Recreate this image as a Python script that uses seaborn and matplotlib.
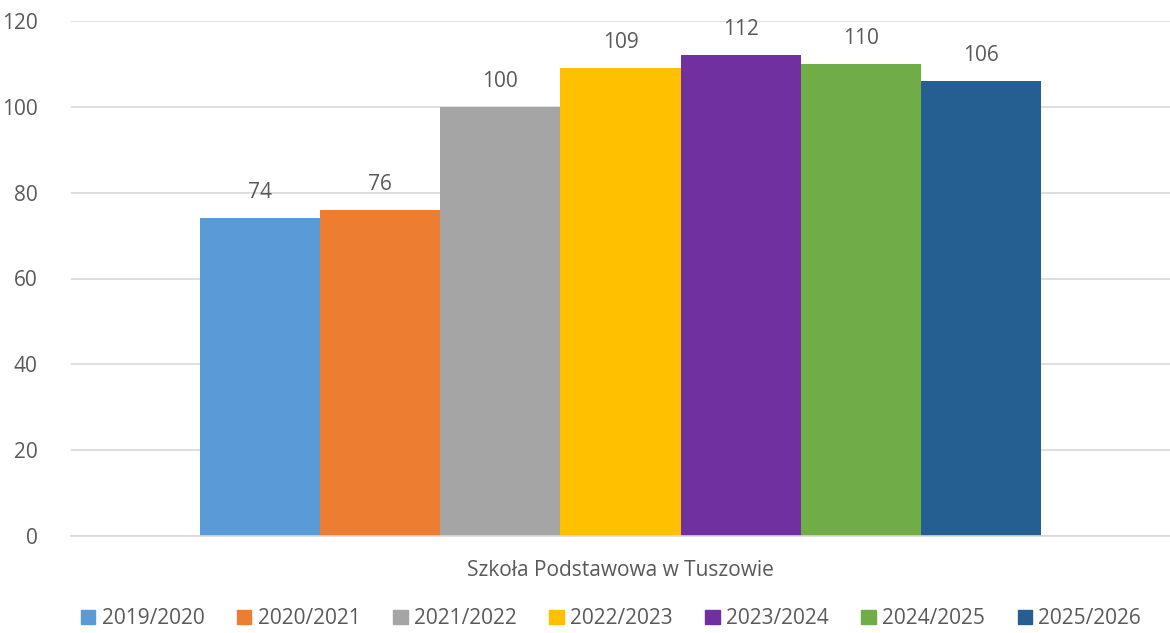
import matplotlib
matplotlib.use("Agg")
import matplotlib.pyplot as plt
import seaborn as sns
import pandas as pd

category = ["Szkoła Podstawowa w Tuszowie"]
years = ["2019/2020", "2020/2021", "2021/2022", "2022/2023", "2023/2024", "2024/2025", "2025/2026"]
values = [74, 76, 100, 109, 112, 110, 106]
colors = ["#5B9BD5", "#ED7D31", "#A5A5A5", "#FFC000", "#7030A0", "#70AD47", "#255E91"]
yticks = [0, 20, 40, 60, 80, 100, 120]

df = pd.DataFrame({"school": category * len(years), "year": years, "value": values})

sns.set_theme(style="white")
plt.rcParams["font.family"] = ["Open Sans", "DejaVu Sans"]
text_color = "#595959"
fs = 15

fig = plt.figure(figsize=(11.70, 6.33), dpi=100)
ax = fig.add_axes([71/1170, 1-536/633, 1-71/1170, (536-21)/633])

sns.barplot(data=df, x="school", y="value", hue="year", palette=colors,
            width=0.766, saturation=1, gap=0, ax=ax, linewidth=0)

for c in ax.containers:
    ax.bar_label(c, padding=11, fontsize=fs, color=text_color)

ax.set_ylim(0, 120)
ax.set_xlim(-0.5, 0.5)
ax.set_yticks(yticks)
ax.set_yticklabels([str(t) for t in yticks], fontsize=fs, color=text_color)
ax.tick_params(axis="y", length=0, pad=24)
ax.tick_params(axis="x", length=0, pad=17, labelsize=fs, labelcolor=text_color)
ax.set_xlabel("")
ax.set_ylabel("")
ax.yaxis.grid(True, color="#D9D9D9", linewidth=1.2)
ax.set_axisbelow(True)
for s in ["top", "right", "left"]:
    ax.spines[s].set_visible(False)
ax.spines["bottom"].set_color("#D9D9D9")
ax.spines["bottom"].set_linewidth(1.2)

ax.get_legend().remove()
handles = [plt.Rectangle((0, 0), 1, 1, color=c) for c in colors]
fig.legend(handles, years, loc="center", bbox_to_anchor=(611/1170, 1-619/633),
           ncol=7, frameon=False, fontsize=fs, labelcolor=text_color,
           handlelength=0.68, handleheight=0.68, handletextpad=0.3, columnspacing=1.58)

fig.savefig("out.png", dpi=100)
